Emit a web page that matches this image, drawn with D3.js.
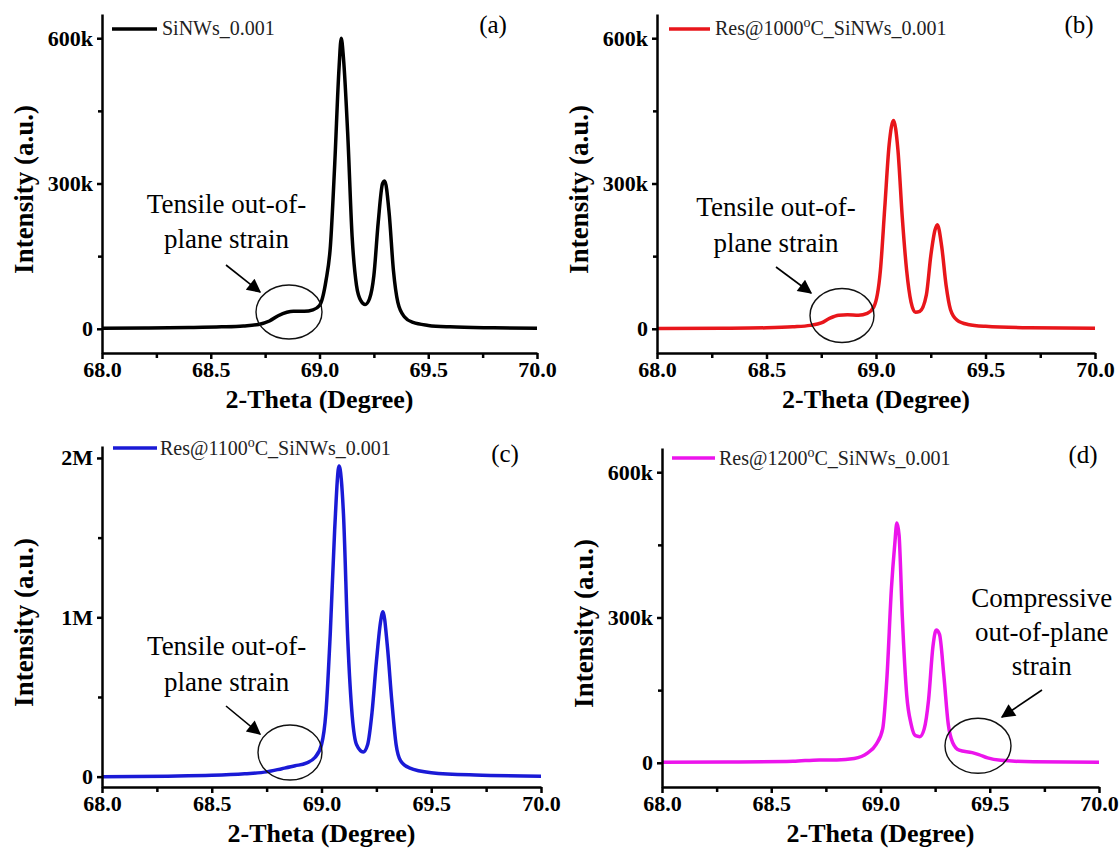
<!DOCTYPE html>
<html>
<head>
<meta charset="utf-8">
<script src="https://cdn.jsdelivr.net/npm/d3@7/dist/d3.min.js"></script>
<style>
body { margin: 0; background: #fff; }
svg text { font-family: "Liberation Serif", "DejaVu Serif", serif !important; }
</style>
</head>
<body>
<svg id="chart" width="1120" height="852"></svg>
<script>
// XRD scans around the Si(400) reflection
var thetaA = [68.0, 68.2, 68.4, 68.55, 68.65, 68.72, 68.77, 68.81, 68.85, 68.88, 68.93, 68.97, 69.0, 69.03, 69.05, 69.07, 69.09, 69.1, 69.11, 69.13, 69.15, 69.17, 69.19, 69.21, 69.23, 69.25, 69.27, 69.29, 69.3, 69.32, 69.34, 69.36, 69.39, 69.43, 69.5, 69.6, 69.8, 70.0];
var intensityA = [1, 1.5, 2.5, 4, 6, 9, 16, 27, 34, 36, 36, 39, 48, 100, 170, 340, 540, 600, 560, 400, 190, 90, 58, 50, 62, 110, 220, 300, 305, 240, 120, 55, 25, 13, 7, 4, 2, 1];

var thetaB = [68.0, 68.3, 68.5, 68.62, 68.7, 68.75, 68.79, 68.83, 68.87, 68.92, 68.96, 68.99, 69.02, 69.04, 69.06, 69.08, 69.1, 69.12, 69.14, 69.16, 69.18, 69.2, 69.23, 69.25, 69.27, 69.28, 69.3, 69.32, 69.34, 69.37, 69.42, 69.5, 69.7, 70.0];
var intensityB = [0.5, 1, 2, 4, 7, 12, 22, 28, 29, 28, 32, 45, 120, 250, 380, 430, 370, 230, 120, 55, 34, 36, 70, 150, 205, 215, 170, 90, 40, 18, 9, 5, 2, 1];

var thetaC = [68.0, 68.3, 68.5, 68.65, 68.75, 68.82, 68.88, 68.93, 68.97, 69.0, 69.02, 69.04, 69.06, 69.08, 69.1, 69.12, 69.14, 69.16, 69.19, 69.21, 69.23, 69.25, 69.27, 69.28, 69.3, 69.32, 69.34, 69.36, 69.4, 69.5, 69.7, 70.0];
var intensityC = [0, 3, 8, 18, 30, 50, 68, 85, 120, 200, 400, 900, 1550, 1950, 1650, 850, 380, 200, 155, 200, 400, 720, 980, 1035, 820, 480, 200, 100, 55, 25, 10, 3];

var thetaD = [68.0, 68.3, 68.6, 68.72, 68.8, 68.88, 68.94, 68.98, 69.01, 69.03, 69.05, 69.065, 69.075, 69.085, 69.1, 69.12, 69.14, 69.16, 69.18, 69.2, 69.22, 69.24, 69.255, 69.27, 69.29, 69.31, 69.33, 69.36, 69.42, 69.45, 69.49, 69.55, 69.7, 70.0];
var intensityD = [1, 1.5, 3, 6, 6, 9, 20, 38, 70, 180, 360, 450, 495, 470, 300, 140, 80, 56, 54, 70, 130, 240, 274, 265, 180, 80, 42, 26, 21, 17, 10, 5, 2, 1];

// intensities above are in thousands of counts
var xTicks = [68.0, 68.5, 69.0, 69.5, 70.0];
var xMinorTicks = [68.25, 68.75, 69.25, 69.75];
var yTicksK = [0, 300000, 600000];
var yMinorK = [150000, 450000];
var yTicksM = [0, 1000000, 2000000];
var yMinorM = [500000, 1500000];

var legendLabels = ["SiNWs_0.001", "Res@1000", "Res@1100", "Res@1200"];
var legendSup = ["", "o", "o", "o"];
var legendTail = ["", "C_SiNWs_0.001", "C_SiNWs_0.001", "C_SiNWs_0.001"];
var panelLetters = ["(a)", "(b)", "(c)", "(d)"];
var tensileText = ["Tensile out-of-", "plane strain"];
var compressiveText = ["Compressive", "out-of-plane", "strain"];
var colors = ["#000000", "#e8161b", "#1a1ad6", "#ec14ec"];

var serif = "'Liberation Serif', 'DejaVu Serif', serif";

var svg = d3.select("#chart").style("font-family", serif);

function fmtY(d) {
	if (d == 0) return "0";
	if (d >= 1000000) return (d / 1000000) + "M";
	return (d / 1000) + "k";
}

function drawPanel(i, ox, oy, w, h, yDomain, thetas, ints, yMajor, yMinor, note, noteLines) {
	var g = svg.append("g")
		.attr("transform", "translate(" + ox + "," + oy + ")");

	var x = d3.scaleLinear().domain([68, 70]).range([0, w]);
	var y = d3.scaleLinear().domain(yDomain).range([h, 0]);

	var pts = thetas.map(function(t, k) { return [t, ints[k] * 1000]; });

	g.append("path")
		.datum(pts)
		.attr("fill", "none")
		.attr("stroke", colors[i])
		.attr("stroke-width", 3.5)
		.attr("stroke-linejoin", "round")
		.attr("d", d3.line()
			.x(function(d) { return x(d[0]); })
			.y(function(d) { return y(d[1]); })
			.curve(d3.curveMonotoneX));

	// axes
	g.append("g")
		.attr("class", "axis")
		.attr("transform", "translate(0," + h + ")")
		.call(d3.axisBottom(x).tickValues(xTicks).tickSize(6).tickSizeOuter(0).tickPadding(2)
			.tickFormat(d3.format(".1f")));
	g.append("g")
		.attr("class", "minor")
		.attr("transform", "translate(0," + h + ")")
		.call(d3.axisBottom(x).tickValues(xMinorTicks).tickSize(5).tickFormat(""));

	g.append("g")
		.attr("class", "axis")
		.call(d3.axisLeft(y).tickValues(yMajor).tickSize(5).tickSizeOuter(0).tickPadding(4)
			.tickFormat(fmtY));
	g.append("g")
		.attr("class", "minor")
		.call(d3.axisLeft(y).tickValues(yMinor).tickSize(4).tickFormat(""));

	g.selectAll(".axis, .minor").attr("font-family", null);
	g.selectAll(".minor .domain").remove();
	g.selectAll(".axis .domain, .axis line, .minor line")
		.attr("stroke", "#000")
		.attr("stroke-width", 2.5);
	g.selectAll(".axis text")
		.attr("fill", "#000")
		.style("font-family", serif)
		.style("font-size", "22px")
		.style("font-weight", "bold");

	g.append("text")
		.attr("x", w / 2)
		.attr("y", h + 55)
		.attr("text-anchor", "middle")
		.style("font-family", serif)
		.style("font-size", "26px")
		.style("font-weight", "bold")
		.text("2-Theta (Degree)");

	g.append("text")
		.attr("transform", "translate(-78," + (h / 2 + 6) + ") rotate(-90)")
		.attr("text-anchor", "middle")
		.attr("dy", "0.35em")
		.style("font-family", serif)
		.style("font-size", "27px")
		.style("font-weight", "bold")
		.text("Intensity (a.u.)");

	// legend
	var lg = note.legend;
	g.append("line")
		.attr("x1", lg[0]).attr("x2", lg[1])
		.attr("y1", lg[2]).attr("y2", lg[2])
		.attr("stroke", colors[i])
		.attr("stroke-width", 3.5);
	var lt = g.append("text")
		.attr("x", lg[3])
		.attr("y", lg[4])
		.attr("fill", "#222")
		.style("font-family", serif)
		.style("font-size", "20px")
		.text(legendLabels[i]);
	if (legendSup[i] != "") {
		lt.append("tspan").attr("dy", -8).style("font-size", "14px").text(legendSup[i]);
		lt.append("tspan").attr("dy", 8).text(legendTail[i]);
	}

	g.append("text")
		.attr("x", note.letter[0])
		.attr("y", note.letter[1])
		.attr("text-anchor", "middle")
		.style("font-family", serif)
		.style("font-size", "25px")
		.text(panelLetters[i]);

	// annotation
	g.append("ellipse")
		.attr("cx", note.ell[0]).attr("cy", note.ell[1])
		.attr("rx", note.ell[2]).attr("ry", note.ell[3])
		.attr("fill", "none")
		.attr("stroke", "#111")
		.attr("stroke-width", 1.4);

	g.append("line")
		.attr("x1", note.arrow[0]).attr("y1", note.arrow[1])
		.attr("x2", note.arrow[2]).attr("y2", note.arrow[3])
		.attr("stroke", "#000")
		.attr("stroke-width", 1.6)
		.attr("marker-end", "url(#head)");

	g.selectAll(".note")
		.data(noteLines)
		.enter()
		.append("text")
			.attr("class", "note")
			.attr("x", note.text[0])
			.attr("y", function(d, k) { return note.text[1] + k * note.text[2]; })
			.attr("text-anchor", "middle")
			.style("font-family", serif)
			.style("font-size", "27px")
			.text(function(d) { return d; });
}

svg.append("defs")
	.append("marker")
		.attr("id", "head")
		.attr("viewBox", "0 0 10 10")
		.attr("refX", 9)
		.attr("refY", 5)
		.attr("markerUnits", "userSpaceOnUse")
		.attr("markerWidth", 17)
		.attr("markerHeight", 14)
		.attr("orient", "auto")
	.append("path")
		.attr("d", "M0,0 L10,5 L0,10 z")
		.attr("fill", "#000");

drawPanel(0, 102, 14, 435, 339, [-50000, 650000], thetaA, intensityA, yTicksK, yMinorK,
	{legend: [10, 55, 15, 60, 21], letter: [391, 19], ell: [187, 298, 33, 27],
	 arrow: [124, 251, 158, 278], text: [124.5, 199, 35]}, tensileText);

drawPanel(1, 657, 14, 438, 339, [-50000, 650000], thetaB, intensityB, yTicksK, yMinorK,
	{legend: [12, 53, 15, 58, 21], letter: [422, 19], ell: [185, 301.5, 32, 27],
	 arrow: [119, 253, 154, 279], text: [119, 202, 35.5]}, tensileText);

drawPanel(2, 102, 446, 439, 341, [-65000, 2075000], thetaC, intensityC, yTicksM, yMinorM,
	{legend: [11, 55, 2, 58, 9], letter: [403, 16], ell: [188, 306.5, 32, 27.5],
	 arrow: [124, 260, 158, 288], text: [124.7, 209, 35.5]}, tensileText);

drawPanel(3, 662, 448, 437, 339, [-50000, 650000], thetaD, intensityD, yTicksK, yMinorK,
	{legend: [10, 53, 10, 57, 17], letter: [421, 15], ell: [316, 297.8, 33, 27.5],
	 arrow: [380, 242, 340, 269], text: [379.7, 158.7, 34.2]}, compressiveText);
</script>
</body>
</html>
